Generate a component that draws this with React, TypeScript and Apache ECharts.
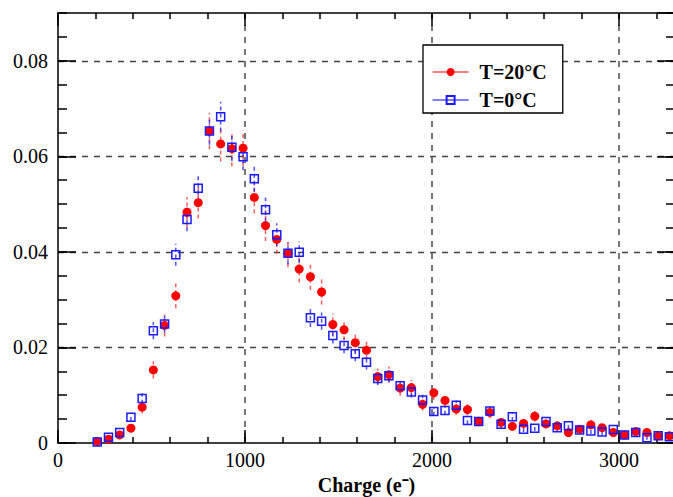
import React, { useEffect, useRef } from "react";
import * as echarts from "echarts";

const charges = [
  210, 270, 330, 390, 450, 510, 570, 630, 690, 750, 810, 870, 930, 990, 1050, 1110, 1170, 1230, 1290, 1350,
  1410, 1470, 1530, 1590, 1650, 1710, 1770, 1830, 1890, 1950, 2010, 2070, 2130, 2190, 2250, 2310, 2370, 2430,
  2490, 2550, 2610, 2670, 2730, 2790, 2850, 2910, 2970, 3030, 3090, 3150, 3210, 3270,
];

const warm = [
  0.0003, 0.0008, 0.0017, 0.0031, 0.0075, 0.0153, 0.0246, 0.0308, 0.0483, 0.0503, 0.0653, 0.0626, 0.0616,
  0.0617, 0.0514, 0.0455, 0.0426, 0.0397, 0.0364, 0.0348, 0.0316, 0.0248, 0.0237, 0.021, 0.0194, 0.0139,
  0.0143, 0.0115, 0.0116, 0.0081, 0.0105, 0.0089, 0.0071, 0.007, 0.0045, 0.0064, 0.0043, 0.0035, 0.0041,
  0.0056, 0.004, 0.0036, 0.0022, 0.0029, 0.0038, 0.0032, 0.0022, 0.0017, 0.0024, 0.0022, 0.0015, 0.0015,
];
const warmErr = [
  0.0003, 0.0004, 0.0006, 0.0008, 0.0013, 0.0018, 0.0023, 0.0026, 0.0032, 0.0033, 0.0038, 0.0037, 0.0037,
  0.0037, 0.0033, 0.0032, 0.003, 0.0029, 0.0028, 0.0027, 0.0026, 0.0023, 0.0022, 0.0021, 0.002, 0.0017,
  0.0017, 0.0016, 0.0016, 0.0013, 0.0015, 0.0014, 0.0012, 0.0012, 0.001, 0.0012, 0.001, 0.0009, 0.0009,
  0.0011, 0.0009, 0.0009, 0.0007, 0.0008, 0.0009, 0.0008, 0.0007, 0.0006, 0.0007, 0.0007, 0.0006, 0.0006,
];

const cold = [
  0.0002, 0.0012, 0.0022, 0.0054, 0.0093, 0.0235, 0.0249, 0.0394, 0.0468, 0.0533, 0.0653, 0.0683, 0.0619,
  0.0599, 0.0553, 0.0488, 0.0436, 0.0397, 0.0399, 0.0262, 0.0255, 0.0225, 0.0204, 0.0187, 0.0169, 0.0135,
  0.0141, 0.012, 0.0107, 0.009, 0.0066, 0.0068, 0.0079, 0.0047, 0.0045, 0.0067, 0.0039, 0.0055, 0.0029,
  0.0031, 0.0045, 0.0032, 0.0036, 0.0027, 0.0025, 0.0023, 0.0028, 0.0017, 0.0022, 0.0011, 0.0015, 0.0013,
];
const coldErr = [
  0.0002, 0.0004, 0.0005, 0.0008, 0.0011, 0.0018, 0.0018, 0.0023, 0.0025, 0.0027, 0.0029, 0.0031, 0.0029,
  0.0028, 0.0027, 0.0026, 0.0024, 0.0023, 0.0023, 0.0019, 0.0018, 0.0017, 0.0016, 0.0016, 0.0015, 0.0013,
  0.0014, 0.0013, 0.0012, 0.0011, 0.0009, 0.0009, 0.001, 0.0008, 0.0008, 0.0009, 0.0007, 0.0009, 0.0006,
  0.0006, 0.0008, 0.0007, 0.0007, 0.0006, 0.0006, 0.0006, 0.0006, 0.0005, 0.0005, 0.0004, 0.0004, 0.0004,
];

const seriesNames = ["T=20°C", "T=0°C"];
const FONT = "'Liberation Serif', 'Times New Roman', serif";

export default function App() {
  const ref = useRef<HTMLDivElement>(null);
  useEffect(() => {
    if (!ref.current) return;
    const chart = echarts.init(ref.current, undefined, { renderer: "svg" });

    const warmPts = charges.map((c, i) => [c, warm[i]]);
    const coldPts = charges.map((c, i) => [c, cold[i]]);
    const warmBars = charges.map((c, i) => [c, warm[i] - warmErr[i], warm[i] + warmErr[i]]);
    const coldBars = charges.map((c, i) => [c, cold[i] - coldErr[i], cold[i] + coldErr[i]]);

    const errRender = (color: string) => (params: any, api: any) => {
      const x = api.value(0);
      const p1 = api.coord([x, api.value(1)]);
      const p2 = api.coord([x, api.value(2)]);
      return {
        type: "line",
        shape: { x1: p1[0], y1: p1[1], x2: p2[0], y2: p2[1] },
        style: { stroke: color, lineWidth: 1.5, lineDash: [4, 3] },
      };
    };

    const xBase = {
      type: "value",
      min: 0,
      max: 3300,
      axisLabel: { show: false },
      splitLine: { show: false },
      axisLine: { show: false, onZero: false },
    };
    const yBase = {
      type: "value",
      min: 0,
      max: 0.09,
      axisLabel: { show: false },
      splitLine: { show: false },
      axisLine: { show: false, onZero: false },
    };
    const black = { color: "#000", width: 1.5 };

    chart.setOption({
      animation: false,
      grid: { left: 58, top: 13, width: 617, height: 430, outerBoundsMode: "none" },
      legend: {
        left: 423,
        top: 45,
        orient: "vertical",
        backgroundColor: "#fff",
        borderColor: "#000",
        borderWidth: 1.3,
        borderRadius: 0,
        padding: [17, 16, 3, 9],
        itemGap: 8,
        itemWidth: 36,
        itemHeight: 10,
        textStyle: { fontFamily: FONT, fontSize: 20, fontWeight: "bold", color: "#000", padding: [0, 0, 0, 6] },
        data: [
          { name: seriesNames[0], lineStyle: { color: "#ff0000", width: 1.2, opacity: 1, type: "solid" } },
          { name: seriesNames[1], lineStyle: { color: "#0000ff", width: 1.2, opacity: 1, type: "solid" } },
        ],
      },
      xAxis: [
        {
          ...xBase,
          position: "bottom",
          interval: 1000,
          axisLine: { show: true, onZero: false, lineStyle: black },
          axisTick: { show: true, inside: true, length: 13, lineStyle: black },
          axisLabel: {
            show: true,
            margin: 7,
            showMaxLabel: false,
            fontFamily: FONT,
            fontSize: 20,
            color: "#000",
            formatter: (v: number) => String(v),
          },
          splitLine: {
            show: true,
            showMinLine: false,
            showMaxLine: false,
            lineStyle: { color: "#777", width: 2, type: [6, 6] },
          },
          name: "Charge (e⁻)",
          nameLocation: "middle",
          nameGap: 32,
          nameTextStyle: { fontFamily: FONT, fontSize: 20, fontWeight: "bold", color: "#000" },
        },
        {
          ...xBase,
          position: "bottom",
          offset: 0,
          interval: 200,
          axisTick: { show: true, inside: true, length: 6, lineStyle: black },
        },
        {
          ...xBase,
          position: "top",
          offset: 0,
          interval: 1000,
          axisLine: { show: true, onZero: false, lineStyle: black },
          axisTick: { show: true, inside: true, length: 13, lineStyle: black },
        },
        {
          ...xBase,
          position: "top",
          offset: 0,
          interval: 200,
          axisTick: { show: true, inside: true, length: 6, lineStyle: black },
        },
      ],
      yAxis: [
        {
          ...yBase,
          position: "left",
          interval: 0.02,
          axisLine: { show: true, onZero: false, lineStyle: black },
          axisTick: { show: true, inside: true, length: 18, lineStyle: black },
          axisLabel: {
            show: true,
            margin: 10,
            showMaxLabel: false,
            fontFamily: FONT,
            fontSize: 20,
            color: "#000",
            formatter: (v: number) => (v === 0 ? "0" : v.toFixed(2)),
          },
          splitLine: {
            show: true,
            showMinLine: false,
            showMaxLine: false,
            lineStyle: { color: "#444", width: 1.3, type: [6, 6] },
          },
        },
        {
          ...yBase,
          position: "left",
          offset: 0,
          interval: 0.005,
          axisTick: { show: true, inside: true, length: 9, lineStyle: black },
        },
        {
          ...yBase,
          position: "right",
          offset: 0,
          interval: 0.02,
          axisLine: { show: true, onZero: false, lineStyle: black },
          axisTick: { show: true, inside: true, length: 18, lineStyle: black },
        },
        {
          ...yBase,
          position: "right",
          offset: 0,
          interval: 0.005,
          axisTick: { show: true, inside: true, length: 9, lineStyle: black },
        },
      ],
      series: [
        {
          type: "custom",
          name: "warmErr",
          xAxisIndex: 0,
          yAxisIndex: 0,
          encode: { x: 0, y: [1, 2] },
          renderItem: errRender("rgba(255,40,40,0.75)"),
          data: warmBars,
          z: 1,
          silent: true,
        },
        {
          type: "custom",
          name: "coldErr",
          xAxisIndex: 0,
          yAxisIndex: 0,
          encode: { x: 0, y: [1, 2] },
          renderItem: errRender("rgba(20,20,255,0.75)"),
          data: coldBars,
          z: 1,
          silent: true,
        },
        {
          type: "line",
          name: seriesNames[0],
          xAxisIndex: 0,
          yAxisIndex: 0,
          data: warmPts,
          symbol: "circle",
          symbolSize: 9,
          showAllSymbol: true,
          lineStyle: { width: 0, opacity: 0, color: "#ff0000" },
          itemStyle: { color: "#ff0000" },
          z: 2,
        },
        {
          type: "line",
          name: seriesNames[1],
          xAxisIndex: 0,
          yAxisIndex: 0,
          data: coldPts,
          symbol: "rect",
          symbolSize: 8,
          showAllSymbol: true,
          lineStyle: { width: 0, opacity: 0, color: "#0000ff" },
          itemStyle: { color: "rgba(255,255,255,0)", borderColor: "#1a1aff", borderWidth: 1.5 },
          z: 3,
        },
      ],
    });
    return () => chart.dispose();
  }, []);
  return <div ref={ref} style={{ position: "absolute", left: 0, top: 0, width: 673, height: 497 }} />;
}
